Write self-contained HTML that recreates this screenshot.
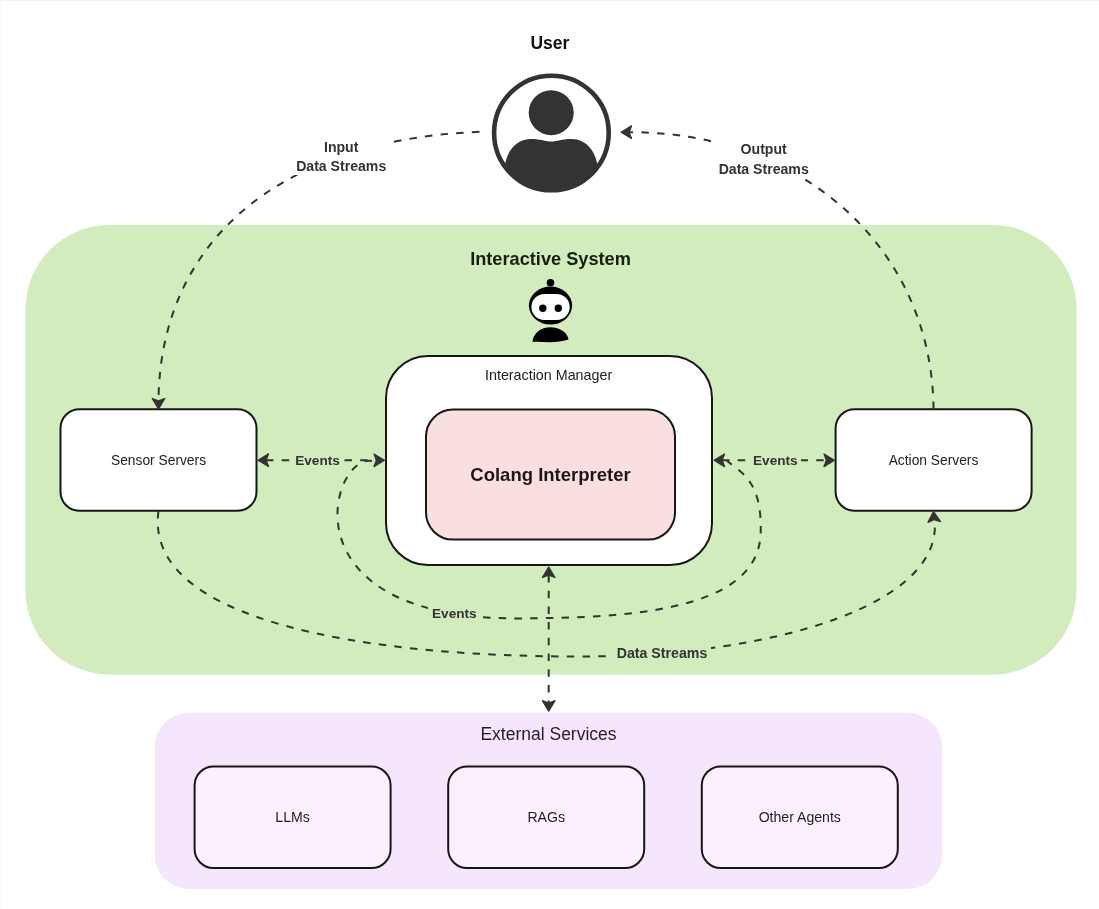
<!DOCTYPE html>
<html>
<head>
<meta charset="utf-8">
<style>
html,body{margin:0;padding:0;background:#ffffff;}
body{width:1099px;height:909px;overflow:hidden;}
svg{display:block;will-change:transform;}
text{font-family:"Liberation Sans",sans-serif;}
</style>
</head>
<body>
<svg width="1099" height="909" viewBox="0 0 1099 909">
<defs>
<clipPath id="ucl"><circle cx="551.4" cy="133" r="57.5"/></clipPath>
</defs>
<rect x="0" y="0" width="1099" height="1" fill="#f4f4f4"/>
<rect x="0" y="0" width="1" height="909" fill="#f8f8f8"/>

<!-- Interactive system container -->
<rect x="25.5" y="225" width="1051" height="449.5" rx="84" ry="84" fill="#d3ecbd"/>
<!-- External services container -->
<rect x="154.7" y="712.8" width="787.3" height="176.2" rx="34" ry="34" fill="#f6e6fd"/>

<!-- boxes -->
<g stroke="#171717" stroke-width="2">
<rect x="60.5" y="409.25" width="196" height="101.5" rx="19" fill="#ffffff"/>
<rect x="835.6" y="409.25" width="196" height="101.5" rx="19" fill="#ffffff"/>
<rect x="386" y="356" width="326" height="209" rx="42" fill="#ffffff"/>
<rect x="426" y="409.6" width="249" height="130" rx="27" fill="#f9dfe0"/>
<rect x="194.6" y="766.5" width="196" height="101.5" rx="19" fill="#fbf0fe"/>
<rect x="448.2" y="766.5" width="196" height="101.5" rx="19" fill="#fbf0fe"/>
<rect x="701.8" y="766.5" width="196" height="101.5" rx="19" fill="#fbf0fe"/>
</g>

<!-- dashed connectors -->
<g fill="none" stroke="#333333" stroke-width="2" stroke-dasharray="7.5 8.2">
<path d="M479.5,131.8 C274.2,140 159.8,245.2 158.5,401"/>
<path d="M933.5,409 C932.2,248.4 802.5,131.7 629,132.2"/>
<path d="M158.5,511 C143.1,621.6 367,656.5 577.7,656.5 C781.6,656.5 943.6,601.9 934.5,520"/>
<path d="M372,461 C331.6,452.9 279.2,620.9 522.9,618.4 C619.5,617.5 757.3,613.4 760.6,534.3 C762.8,481.1 741.1,472.5 727,461"/>
<path d="M266,460.2 L376,460.2"/>
<path d="M722,460.3 L826,460.3"/>
<path d="M548.7,575 L548.7,703"/>
</g>

<!-- arrowheads -->
<g fill="#333333" stroke="#333333" stroke-width="1.3" stroke-linejoin="round">
<path d="M-0.6,0 L-11,-6.3 L-8.6,0 L-11,6.3 Z" transform="translate(158.5,409.5) rotate(90)"/>
<path d="M-0.6,0 L-11,-6.3 L-8.6,0 L-11,6.3 Z" transform="translate(620.5,132.2) rotate(180)"/>
<path d="M-0.6,0 L-11,-6.3 L-8.6,0 L-11,6.3 Z" transform="translate(933.5,511) rotate(-94)"/>
<path d="M-0.6,0 L-11,-6.3 L-8.6,0 L-11,6.3 Z" transform="translate(257.5,460.2) rotate(180)"/>
<path d="M-0.6,0 L-11,-6.3 L-8.6,0 L-11,6.3 Z" transform="translate(385,460.3)"/>
<path d="M-0.6,0 L-11,-6.3 L-8.6,0 L-11,6.3 Z" transform="translate(713.5,460.3) rotate(180)"/>
<path d="M-0.6,0 L-11,-6.3 L-8.6,0 L-11,6.3 Z" transform="translate(835,460.3)"/>
<path d="M-0.6,0 L-11,-6.3 L-8.6,0 L-11,6.3 Z" transform="translate(548.7,566.5) rotate(-90)"/>
<path d="M-0.6,0 L-11,-6.3 L-8.6,0 L-11,6.3 Z" transform="translate(548.7,711.7) rotate(90)"/>

</g>
<!-- label backgrounds -->
<rect x="292" y="138" width="98" height="37" fill="#ffffff"/>
<rect x="714" y="140" width="100" height="39" fill="#ffffff"/>
<rect x="292" y="450" width="51" height="20" fill="#d3ecbd"/>
<rect x="749" y="450" width="52" height="20" fill="#d3ecbd"/>
<rect x="428" y="603" width="52" height="20" fill="#d3ecbd"/>
<rect x="612" y="643" width="99" height="20" fill="#d3ecbd"/>

<!-- user icon -->
<circle cx="551.4" cy="133" r="57.3" fill="#ffffff" stroke="#333333" stroke-width="4.6"/>
<circle cx="551.2" cy="112.7" r="22.5" fill="#333333"/>
<path clip-path="url(#ucl)" d="M504,195 L504,175 C504,152 516,139 531,139 C541,139 545,141.5 551.2,141.5 C557.4,141.5 561.4,139 571.4,139 C586.4,139 598.4,152 598.4,175 L598.4,195 Z" fill="#333333"/>

<!-- robot icon -->
<g fill="#000000">
<circle cx="550.5" cy="282.8" r="3.8"/>
<ellipse cx="550.5" cy="305.6" rx="21.6" ry="19"/>
<path d="M532.5,342 C533,333 541,327.2 550.5,327.2 C560,327.2 568,333 568.5,339.5 C562,341.5 556,342.2 550,342.2 C544,342.2 538,341.5 532.5,342 Z"/>
</g>
<rect x="531.4" y="294" width="38.3" height="26" rx="13" fill="#ffffff"/>
<circle cx="542.8" cy="308.2" r="3.7" fill="#000000"/>
<circle cx="558.3" cy="308.2" r="3.7" fill="#000000"/>

<!-- texts -->
<g text-anchor="middle">
<text x="549.9" y="48.6" font-size="17.5" font-weight="bold" fill="#111111">User</text>
<text x="550.5" y="264.6" font-size="18.2" font-weight="bold" fill="#17200f">Interactive System</text>
<text x="550.5" y="480.7" font-size="18.5" font-weight="bold" fill="#1e1616">Colang Interpreter</text>
<text x="548.6" y="379.6" font-size="14.3" fill="#222222">Interaction Manager</text>
<text x="158.5" y="465" font-size="13.8" fill="#222222">Sensor Servers</text>
<text x="933.5" y="465" font-size="13.8" fill="#222222">Action Servers</text>
<text x="548.5" y="740" font-size="17.5" fill="#251c2a">External Services</text>
<text x="292.6" y="821.5" font-size="14.1" fill="#221c24">LLMs</text>
<text x="546.2" y="821.5" font-size="14.1" fill="#221c24">RAGs</text>
<text x="799.8" y="821.5" font-size="14.1" fill="#221c24">Other Agents</text>
<g font-weight="bold" fill="#333333" font-size="13.6">
<text x="341.2" y="151.5" font-size="14.1">Input</text>
<text x="341.2" y="170.5" font-size="14.1">Data Streams</text>
<text x="763.7" y="154" font-size="14.1">Output</text>
<text x="763.7" y="173.5" font-size="14.1">Data Streams</text>
<text x="317.5" y="464.8">Events</text>
<text x="775.3" y="464.8">Events</text>
<text x="454.3" y="617.8">Events</text>
<text x="662" y="657.6" font-size="14.2">Data Streams</text>
</g>
</g>
</svg>
</body>
</html>
